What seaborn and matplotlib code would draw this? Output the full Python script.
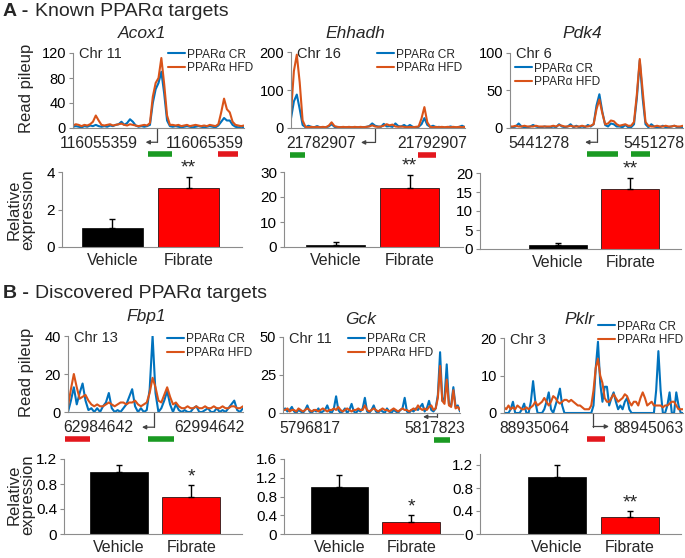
import numpy as np
import pandas as pd
import matplotlib
matplotlib.use("Agg")
import matplotlib.pyplot as plt
import matplotlib.transforms as mtransforms
import seaborn as sns

# --- Configuration ---
W, H = 685, 558
BLUE = "#0072BD"
ORANGE = "#D95319"
GREY = "#8C8C8C"
REGION_COLORS = {"g": "#1A9A22", "r": "#E3171D"}
TRACKS = ["PPARα CR", "PPARα HFD"]

# --- Data: gene panels ---
GENES = ["Acox1", "Ehhadh", "Pdk4", "Fbp1", "Gck", "Pklr"]
CHROMS = ["Chr 11", "Chr 16", "Chr 6", "Chr 13", "Chr 11", "Chr 3"]
COORD_LABELS = [("116055359", "116065359"), ("21782907", "21792907"),
                ("5441278", "5451278"), ("62984642", "62994642"),
                ("5796817", "5817823"), ("88935064", "88945063")]
# genomic positions in kb, relative to the left coordinate label
COORD_KB = [(0, 10), (0, 10), (0, 10), (0, 10), (0, 21.006), (0, 9.999)]
WINDOW_KB = [(-2.45, 13.68), (-2.7, 12.97), (-2.52, 12.5),
             (-2.7, 13.06), (-4.5, 25.2), (-2.72, 13.0)]
TSS_KB = [5.47, 4.86, 5.0, 5.05, 21.3, 5.1]
TSS_END_KB = [4.4, 3.6, 4.0, 3.96, 19.0, 6.5]
REGIONS = [[(4.6, 6.9, "g"), (11.2, 13.1, "r")],
           [(-2.8, -1.44, "g"), (8.7, 10.4, "r")],
           [(4.2, 6.9, "g"), (8.0, 9.65, "g")],
           [(-2.97, -0.72, "r"), (4.5, 6.85, "g")],
           [(20.8, 23.5, "g")],
           [(4.56, 6.14, "r")]]
PILEUP_YTICKS = [[0, 40, 80, 120], [0, 100, 200], [0, 50, 100],
                 [0, 20, 40], [0, 25, 50], [0, 10, 20]]

acox1_cr = [2, 3, 2, 1, 3, 2, 4, 3, 5, 3, 2, 3, 2, 4, 3, 5, 6, 10, 5, 8, 14,
            10, 4, 2, 3, 2, 3, 5, 40, 62, 72, 90, 55, 12, 3, 2, 3, 2, 1, 2, 3,
            2, 1, 2, 3, 2, 1, 2, 3, 2, 1, 4, 10, 16, 12, 12, 5, 2, 1, 2, 1]
acox1_hfd = [4, 6, 5, 3, 5, 4, 6, 10, 20, 12, 5, 4, 5, 6, 4, 5, 6, 7, 5, 4, 6,
             5, 4, 3, 4, 5, 4, 8, 50, 72, 80, 112, 70, 20, 5, 5, 4, 5, 3, 4, 5,
             3, 4, 5, 4, 3, 4, 3, 5, 4, 3, 6, 25, 47, 30, 25, 10, 5, 4, 3, 4]
ehhadh_cr = [25, 70, 88, 50, 8, 2, 6, 3, 2, 5, 2, 1, 2, 4, 10, 3, 1, 2, 1, 2, 1,
             2, 1, 2, 1, 2, 3, 5, 12, 6, 4, 3, 11, 4, 5, 3, 12, 5, 4, 8, 3,
             8, 3, 2, 3, 10, 26, 8, 3, 6, 2, 3, 2, 1, 2, 4, 2, 1, 3, 6, 2]
ehhadh_hfd = [40, 150, 193, 120, 20, 3, 2, 3, 2, 3, 2, 3, 2, 6, 15, 5, 3, 2, 3,
              2, 3, 2, 3, 2, 3, 2, 3, 4, 7, 4, 3, 4, 6, 10, 7, 9, 4, 3, 4, 3, 2,
              3, 2, 3, 4, 25, 55, 15, 3, 2, 3, 2, 3, 2, 3, 2, 3, 2, 3, 2, 3]
pdk4_cr = [1, 1, 2, 6, 2, 1, 1, 2, 4, 2, 1, 1, 2, 1, 1, 2, 1, 5, 2, 1, 2, 5, 1,
           3, 1, 2, 1, 4, 2, 5, 30, 45, 22, 4, 2, 6, 5, 2, 2, 1, 4, 1, 1, 5,
           40, 90, 40, 5, 1, 5, 2, 1, 1, 3, 1, 1, 2, 3, 1, 1, 1]
pdk4_hfd = [2, 2, 3, 2, 2, 3, 2, 2, 2, 3, 2, 2, 2, 2, 2, 3, 2, 4, 3, 2, 2, 3, 2,
            2, 2, 3, 2, 2, 3, 5, 25, 38, 20, 5, 6, 10, 9, 5, 3, 4, 5, 3, 3, 8,
            45, 92, 50, 8, 3, 2, 2, 3, 2, 2, 3, 2, 2, 3, 2, 2, 3]
fbp1_cr = [0, 6, 13, 4, 10, 15, 6, 1, 2, 0, 2, 0, 3, 5, 10, 2, 0, 1, 0, 2, 4,
           8, 12, 3, 0, 2, 0, 1, 12, 40, 10, 0, 2, 6, 11, 4, 0, 4, 1, 0, 1,
           0, 0, 2, 3, 0, 0, 1, 2, 0, 0, 2, 0, 1, 0, 2, 4, 6, 1, 0, 2]
fbp1_hfd = [3, 12, 20, 13, 7, 8, 9, 6, 4, 3, 4, 3, 3, 4, 5, 4, 3, 4, 5, 5, 4,
            5, 5, 6, 4, 3, 4, 5, 10, 18, 13, 6, 5, 9, 13, 8, 4, 5, 3, 2, 2,
            3, 2, 2, 3, 2, 2, 3, 2, 2, 3, 2, 2, 3, 2, 2, 3, 3, 2, 2, 3]
gck_cr = [2, 3, 1, 2, 4, 1, 0, 2, 1, 0, 2, 5, 1, 0, 2, 1, 3, 0, 1, 2, 5, 1, 0,
          3, 11, 2, 0, 1, 3, 0, 2, 6, 1, 0, 2, 1, 3, 10, 1, 0, 2, 5, 1, 0, 2,
          1, 0, 3, 1, 0, 2, 1, 0, 2, 3, 10, 1, 0, 2, 1, 3, 2, 4, 6, 1, 3, 8,
          2, 1, 3, 12, 40, 8, 10, 32, 6, 5, 17, 4, 5, 1]
gck_hfd = [2, 2, 3, 1, 2, 2, 1, 3, 2, 1, 2, 3, 2, 1, 2, 2, 1, 2, 3, 2, 1, 2, 2,
           3, 2, 4, 2, 1, 2, 3, 2, 1, 2, 2, 3, 2, 2, 5, 2, 1, 2, 3, 2, 1, 2,
           3, 2, 2, 1, 2, 3, 2, 1, 2, 3, 2, 2, 1, 2, 3, 2, 5, 3, 2, 3, 2, 4,
           5, 2, 3, 10, 31, 8, 6, 22, 5, 4, 15, 3, 4, 2]
pklr_cr = [0, 0, 0, 1, 3, 0, 0, 0, 1, 2.5, 0, 0, 3, 8.5, 3, 0, 0, 0, 1, 3, 5.5,
           1, 0, 2, 4, 6.5, 2, 0, 0, 0, 0, 0, 0, 0, 0, 0, 0, 0, 0, 0, 2, 12,
           19, 8, 3, 7, 7, 2, 4, 5.5, 3, 1, 2, 1, 3, 4, 1, 0, 0, 0, 0, 0, 0,
           0, 0, 0, 0, 0, 6, 16.5, 6, 0, 0, 2, 5.5, 0, 0, 5.5, 2, 0, 0]
pklr_hfd = [1.5, 1, 2, 1, 1.5, 1, 2, 1.5, 1, 1, 1.5, 1, 1.5, 2, 3, 2, 2.5, 3, 4,
            3, 2, 3, 4.5, 4, 3, 2.5, 3, 3.5, 3.5, 3, 3.5, 3, 2.5, 2, 2, 1.5, 1,
            1, 1, 2, 6, 12, 14.5, 10, 8, 4, 3, 3, 4, 5, 4, 3, 3.5, 4, 5, 4.5,
            3, 2, 3, 3, 2, 4, 5.5, 4, 2, 2.5, 3, 2, 2, 2, 2, 1.5, 2, 2, 2.5, 3,
            3, 2, 1, 1, 1]
PILEUPS = [(acox1_cr, acox1_hfd), (ehhadh_cr, ehhadh_hfd), (pdk4_cr, pdk4_hfd),
           (fbp1_cr, fbp1_hfd), (gck_cr, gck_hfd), (pklr_cr, pklr_hfd)]

# --- Data: qPCR ---
CONDITIONS = ["Vehicle", "Fibrate"]
VEHICLE = [1.0, 1.0, 1.0, 1.0, 1.0, 1.0]
VEHICLE_ERR = [0.5, 1.0, 0.5, 0.1, 0.25, 0.2]
FIBRATE = [3.15, 23.5, 15.8, 0.6, 0.26, 0.3]
FIBRATE_ERR = [0.6, 5.5, 2.9, 0.18, 0.14, 0.1]
STARS = ["**", "**", "**", "*", "*", "**"]
EXPR_YMAX = [4, 30, 20, 1.2, 1.6, 1.4]
EXPR_YTICKS = [[0, 2, 4], [0, 10, 20, 30], [0, 5, 10, 15, 20],
               [0, 0.4, 0.8, 1.2], [0, 0.4, 0.8, 1.2, 1.6], [0, 0.4, 0.8, 1.2]]

# --- Layout (pixel boxes: left, top, right, bottom) ---
TRACE_BOX = [(73, 53, 244, 128), (291, 52, 465, 128), (510, 53, 683, 128),
             (68, 336, 243, 412), (283, 337, 460, 413), (504, 338, 683, 413)]
BAR_BOX = [(62, 172, 242, 247), (284, 172, 463, 247), (480, 173, 681, 249),
           (64, 459, 242, 534), (284, 459, 463, 534), (480, 453.5, 681, 534)]
BAR_XLIM = [(-0.66, 1.7), (-0.7, 1.72), (-1.08, 1.7),
            (-0.76, 1.7), (-0.77, 1.72), (-1.05, 1.7)]
TITLE_POS = [(142, 33), (355, 33), (582, 33), (146, 317), (361, 319), (579, 319)]
LEGEND_POS = [(168, 55), (377, 55), (515, 69), (167, 340), (348, 340), (598, 327)]
ARROW_DROP = [0.19, 0.19, 0.19, 0.2, 0.05, 0.18]

sns.set_theme(style="white")
plt.rcParams["font.family"] = ["Liberation Sans", "DejaVu Sans"]
plt.rcParams["axes.edgecolor"] = GREY
plt.rcParams["axes.linewidth"] = 0.8

fig = plt.figure(figsize=(W / 100, H / 100), dpi=100)


def add_ax(box):
    l, t, r, b = box
    return fig.add_axes([l / W, 1 - b / H, (r - l) / W, (b - t) / H])


def style_axes(ax, ticksize):
    sns.despine(ax=ax)
    ax.tick_params(axis="y", which="both", left=True, length=3, width=0.8,
                   color=GREY, labelsize=ticksize, pad=2, labelcolor="black")
    ax.tick_params(axis="x", length=0)


for i, gene in enumerate(GENES):
    # read pileup tracks
    ax = add_ax(TRACE_BOX[i])
    cr, hfd = PILEUPS[i]
    x0, x1 = WINDOW_KB[i]
    kb = np.linspace(x0, x1, len(cr))
    df = pd.DataFrame({"kb": np.concatenate([kb, kb]),
                       "pileup": cr + hfd,
                       "track": [TRACKS[0]] * len(cr) + [TRACKS[1]] * len(hfd)})
    sns.lineplot(data=df, x="kb", y="pileup", hue="track", hue_order=TRACKS,
                 palette=[BLUE, ORANGE], linewidth=1.5, errorbar=None, ax=ax)
    ax.set_xlim(x0, x1)
    ax.set_ylim(0, PILEUP_YTICKS[i][-1])
    ax.set_yticks(PILEUP_YTICKS[i])
    ax.set_xticks(COORD_KB[i])
    ax.set_xticklabels(COORD_LABELS[i], fontsize=11.3)
    ax.set_xlabel("")
    ax.set_ylabel("")
    style_axes(ax, 10.5)
    ax.tick_params(axis="x", pad=5.5)
    ax.text(0.035, 0.98, CHROMS[i], transform=ax.transAxes, fontsize=10.5,
            va="center", ha="left")

    handles, labels = ax.get_legend_handles_labels()
    lx, ly = LEGEND_POS[i]
    ax.legend(handles, labels, loc="upper left", frameon=False, fontsize=8.6,
              bbox_to_anchor=(lx / W, 1 - (ly - 6.5) / H),
              bbox_transform=fig.transFigure, borderpad=0, borderaxespad=0,
              handlelength=1.4, handletextpad=0.2, labelspacing=0.12)

    # TSS arrow and promoter regions
    trans = mtransforms.blended_transform_factory(ax.transData, ax.transAxes)
    drop = -ARROW_DROP[i]
    ax.plot([TSS_KB[i], TSS_KB[i]], [0, drop], color="#444444", lw=0.9,
            transform=trans, clip_on=False)
    ax.annotate("", xy=(TSS_END_KB[i], drop), xycoords=trans,
                xytext=(TSS_KB[i], drop), textcoords=trans,
                arrowprops=dict(arrowstyle="-|>", color="#444444", lw=0.9,
                                shrinkA=0, shrinkB=0, mutation_scale=6))
    for r0, r1, c in REGIONS[i]:
        ax.plot([r0, r1], [-0.35, -0.35], color=REGION_COLORS[c], lw=4,
                solid_capstyle="butt", transform=trans, clip_on=False)

    tx, ty = TITLE_POS[i]
    fig.text(tx / W, 1 - ty / H, gene, fontsize=12.5, style="italic",
             ha="center", va="center")

    # relative expression bars
    bx = add_ax(BAR_BOX[i])
    vals = [VEHICLE[i], FIBRATE[i]]
    errs = [VEHICLE_ERR[i], FIBRATE_ERR[i]]
    sns.barplot(x=CONDITIONS, y=vals, hue=CONDITIONS, palette=["#000000", "#FF0000"],
                saturation=1, width=0.8, edgecolor="black", linewidth=0.5,
                legend=False, ax=bx)
    bx.errorbar([0, 1], vals, yerr=[[0, 0], errs], fmt="none", ecolor="black",
                elinewidth=1, capsize=2, capthick=1)
    bx.text(1, FIBRATE[i] + FIBRATE_ERR[i], STARS[i], ha="center", va="bottom",
            fontsize=14)
    bx.set_xlim(*BAR_XLIM[i])
    bx.set_ylim(0, EXPR_YMAX[i])
    bx.set_yticks(EXPR_YTICKS[i])
    bx.set_yticklabels([f"{t:g}" for t in EXPR_YTICKS[i]])
    style_axes(bx, 11)
    bx.tick_params(axis="x", labelsize=11.5, pad=4)

# row headings and shared axis labels
for label, rest, y in [("A - ", "Known PPARα targets", 12),
                       ("B - ", "Discovered PPARα targets", 293)]:
    fig.text(3 / W, 1 - y / H, label, fontsize=14, weight="bold", va="center")
    fig.text(35 / W, 1 - y / H, rest, fontsize=14, va="center")

for y in [88, 372]:
    fig.text(26 / W, 1 - y / H, "Read pileup", rotation=90, fontsize=12,
             ha="center", va="center")
for y in [210, 495]:
    fig.text(21 / W, 1 - y / H, "Relative\nexpression", rotation=90,
             fontsize=12, ha="center", va="center", linespacing=0.95)

fig.savefig("out.png", dpi=100)
